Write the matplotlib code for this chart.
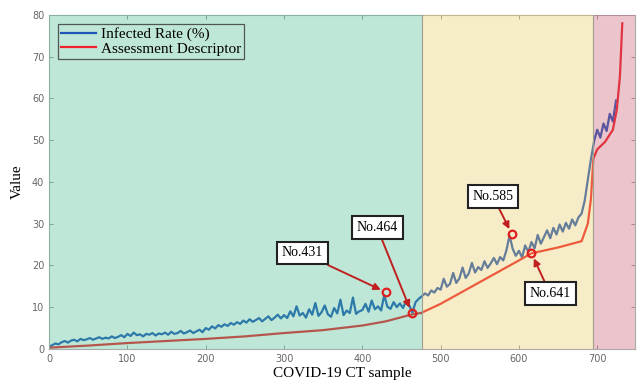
import numpy as np
from matplotlib import pyplot as plt

# infected rate (%), one reading every 4 samples
blue_step = 4
infected_rate = [
    0.5, 0.9, 1.3, 1.1, 1.6, 1.9, 1.5, 2.0, 2.2, 1.8, 2.4, 2.1, 2.3, 2.6, 2.2, 2.5, 2.8, 2.4, 2.7, 2.5, 3.0, 2.6, 2.9, 3.3, 2.8,
    3.6, 3.1, 3.9, 3.3, 3.5, 3.0, 3.6, 3.4, 3.8, 3.2, 3.7, 3.5, 3.9, 3.4, 4.1, 3.6, 3.8, 4.3, 3.7, 4.0, 4.4, 3.8, 4.2, 4.6, 4.0,
    5.0, 4.6, 5.4, 4.9, 5.7, 5.3, 5.9, 5.5, 6.2, 5.8, 6.4, 6.0, 6.8, 6.3, 7.1, 6.5, 6.9, 7.4, 6.6, 7.2, 7.8, 6.9, 7.5, 8.2, 7.3,
    8.1, 7.4, 9.0, 7.8, 10.2, 8.0, 8.6, 7.5, 9.5, 8.2, 11.0, 7.9, 8.8, 10.4, 8.3, 7.7, 9.8, 8.5, 11.8, 8.1, 9.2, 8.6, 12.3, 8.4, 9.0,
    9.3, 10.8, 8.9, 11.6, 9.5, 10.2, 9.2, 12.9, 10.1, 9.6, 11.2, 10.0, 10.9, 9.8, 11.5, 10.4, 8.7, 11.2, 12.0, 12.6, 13.3, 12.8, 14.0, 13.5, 14.6,
    14.2, 16.8, 14.9, 15.6, 18.2, 15.8, 16.9, 19.5, 17.0, 18.1, 20.6, 18.3, 19.6, 18.9, 21.0, 19.4, 20.5, 21.8, 20.3, 22.0, 21.2, 23.6, 27.2, 24.0, 22.3,
    23.5, 21.9, 24.8, 23.2, 25.6, 24.1, 27.3, 25.2, 26.8, 28.4, 26.5, 29.0, 27.4, 29.8, 28.1, 30.2, 28.8, 31.0, 29.6, 31.5, 32.4, 35.5, 40.5, 45.5, 49.8,
    52.5, 50.6, 54.0, 52.2, 56.3, 54.5, 59.5,
]

# assessment descriptor
desc_x = [0, 50, 100, 150, 200, 250, 300, 350, 400, 430, 464, 475, 500, 550, 600, 616, 650, 680,
          688, 692, 695, 700, 710, 720, 725, 729, 732]
desc_y = [0.3, 0.8, 1.4, 1.9, 2.4, 3.0, 3.8, 4.5, 5.6, 6.6, 8.3, 8.6, 10.8, 16.0, 21.2, 22.9, 24.3, 25.8,
          30.0, 36.0, 45.5, 47.8, 49.6, 52.5, 57.3, 65.3, 78.0]

# highlighted samples: label, marker x, marker y, label x, label y
marks = ["No.431", "No.464", "No.585", "No.641"]
mark_x = [430, 463, 591, 616]
mark_y = [13.6, 8.6, 27.5, 22.9]
text_x = [323, 419, 567, 640]
text_y = [23.0, 29.0, 36.5, 13.2]

zones = [(0, 476, "#48bd8f"), (476, 695, "#e9ca62"), (695, 750, "#c8576e")]

plt.rcParams['font.family'] = ['Liberation Serif', 'DejaVu Serif']

fig = plt.figure(figsize=(6.38, 3.83), dpi=100)
ax = fig.add_axes([0.077, 0.089, 0.918, 0.872])

xb = np.arange(len(infected_rate)) * blue_step
ax.plot(xb, infected_rate, color="#1f55b8", lw=1.6, zorder=2, label="Infected Rate (%)")
ax.plot(desc_x, desc_y, color="#f0202a", lw=1.6, zorder=2.1, label="Assessment Descriptor")

for a, b, c in zones:
    ax.axvspan(a, b, color=c, alpha=0.35, lw=0, zorder=3)
ax.axvline(476, color="#a0a090", lw=0.8, zorder=3)
ax.axvline(695, color="#a0a090", lw=0.8, zorder=3)

ax.plot(mark_x, mark_y, 'o', ms=5.5, mfc='none', mec="#e02020", mew=1.6, zorder=5)
for lab, mx, my, tx, ty in zip(marks, mark_x, mark_y, text_x, text_y):
    ax.annotate(lab, xy=(mx, my), xytext=(tx, ty), fontsize=10, ha='center', va='center',
                bbox=dict(boxstyle='square,pad=0.35', fc='white', ec='#222222', lw=1.5),
                arrowprops=dict(arrowstyle='-|>', color="#c02020", lw=1.4, mutation_scale=10,
                                shrinkA=0, shrinkB=4),
                zorder=6)

ax.set_xlim(0, 748)
ax.set_ylim(0, 80)
ax.set_xticks(np.arange(0, 701, 100))
ax.set_yticks(np.arange(0, 81, 10))
ax.tick_params(direction='in', top=True, right=True, length=3, width=0.6,
               colors='#888888', labelcolor='#666666', labelsize=7)
for lbl in ax.get_xticklabels() + ax.get_yticklabels():
    lbl.set_family('DejaVu Sans')
for s in ax.spines.values():
    s.set_color('#aaaaaa')
    s.set_linewidth(0.8)

ax.set_xlabel("COVID-19 CT sample", fontsize=11, labelpad=2)
ax.set_ylabel("Value", fontsize=11, labelpad=6)

leg = ax.legend(loc='upper left', fontsize=11, frameon=True, fancybox=False,
                handlelength=2.3, handletextpad=0.3, borderpad=0.2, labelspacing=0.05,
                borderaxespad=0.6)
leg.get_frame().set_facecolor('none')
leg.get_frame().set_edgecolor('#333333')
leg.get_frame().set_linewidth(0.9)
leg.set_zorder(7)

plt.savefig('out.png', dpi=100)
